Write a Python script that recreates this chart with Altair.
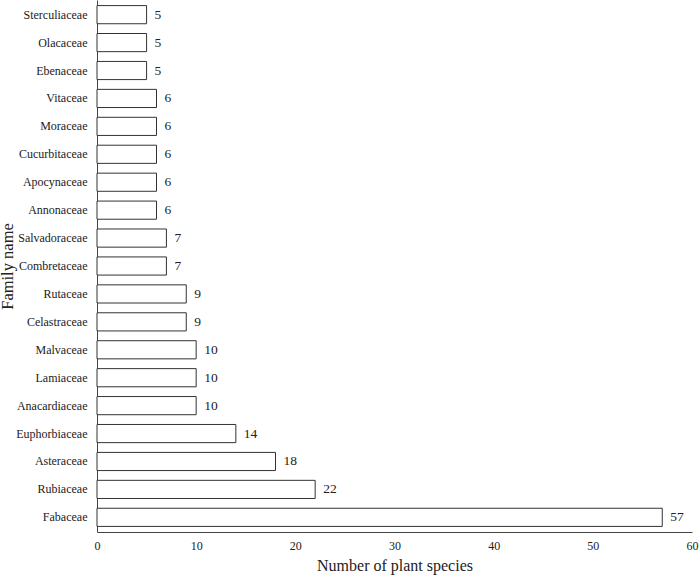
import altair as alt
import pandas as pd

families = ["Sterculiaceae", "Olacaceae", "Ebenaceae", "Vitaceae", "Moraceae",
            "Cucurbitaceae", "Apocynaceae", "Annonaceae", "Salvadoraceae",
            "Combretaceae", "Rutaceae", "Celastraceae", "Malvaceae", "Lamiaceae",
            "Anacardiaceae", "Euphorbiaceae", "Asteraceae", "Rubiaceae", "Fabaceae"]
counts = [5, 5, 5, 6, 6, 6, 6, 6, 7, 7, 9, 9, 10, 10, 10, 14, 18, 22, 57]
x_ticks = [0, 10, 20, 30, 40, 50, 60]

df = pd.DataFrame({"family": families, "count": counts})
FONT = "Times New Roman, Liberation Serif, serif"

base = alt.Chart(df).encode(
    y=alt.Y("family:N", sort=families,
            scale=alt.Scale(paddingInner=0.35, paddingOuter=0.2),
            axis=alt.Axis(title="Family name", ticks=False, labelPadding=10,
                          labelFontSize=12, titleFontSize=16.5,
                          titleX=-82, titleY=266, titleAngle=-90)),
    x=alt.X("count:Q", scale=alt.Scale(domain=[0, 60], nice=False),
            axis=alt.Axis(title="Number of plant species", values=x_ticks, ticks=False,
                          labelFlush=False, labelPadding=8, labelFontSize=12,
                          titleFontSize=16, titlePadding=6)),
)

bars = base.mark_bar(fill="white", stroke="#333", strokeWidth=1)
labels = base.mark_text(align="left", dx=8, fontSize=13.5, color="#222").encode(
    text="count:Q")

chart = (bars + labels).properties(
    width=595, height=532,
    padding={"left": 97, "top": 0, "right": 7, "bottom": 43},
    autosize=alt.AutoSizeParams(type="none"),
).configure_view(stroke=None).configure_axis(
    grid=False, labelFont=FONT, titleFont=FONT, labelColor="#222",
    titleColor="#222", titleFontWeight="normal", domainColor="#444"
).configure_text(font=FONT)

chart.save("out.html", embed_options={"renderer": "svg", "actions": False})
